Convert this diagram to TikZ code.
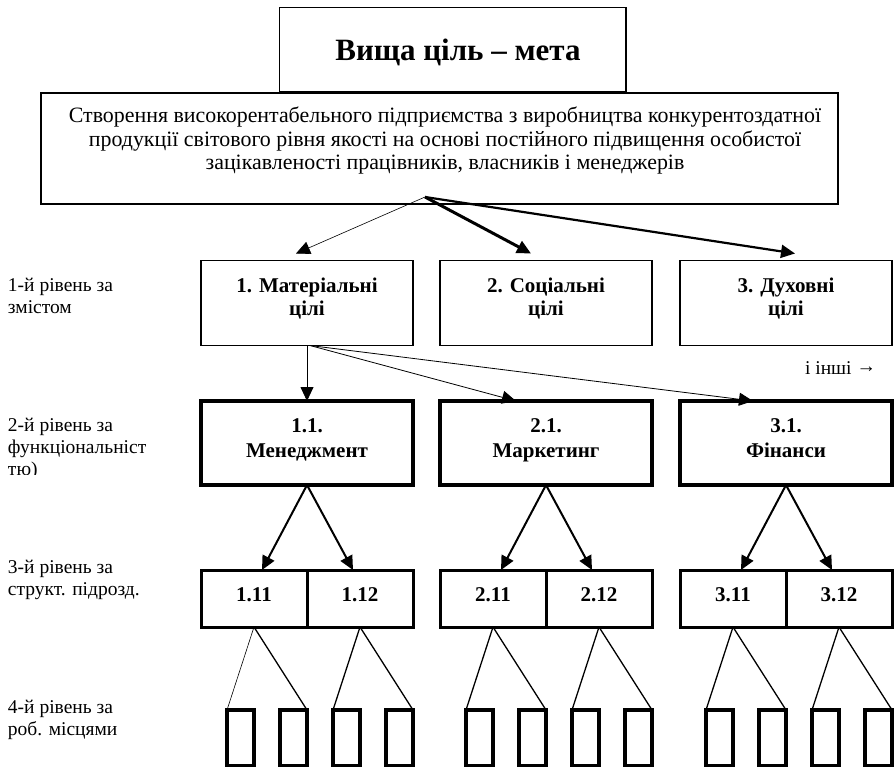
\documentclass[tikz,border=0pt]{standalone}
\usepackage{fontspec}
\setmainfont{Liberation Serif}
\usetikzlibrary{arrows.meta}
\begin{document}
\begin{tikzpicture}[x=1pt,y=-1pt,
  every node/.style={inner sep=0pt, outer sep=0pt},
  frame/.style={draw, line width=#1},
  lab/.style={font=\fontsize{19.5pt}{22pt}\selectfont, align=left, anchor=base west},
  body/.style={font=\fontsize{21.9pt}{23.3pt}\selectfont, align=center, anchor=base},
  head/.style={font=\bfseries\fontsize{21pt}{23pt}\selectfont, align=center, anchor=base},
  arr/.style={-{Triangle[length=14pt,width=13pt]}},
]
\useasboundingbox (0,0) rectangle (894,768);

% --- top goal and mission ---
\node[frame=1.5pt, minimum width=346.6pt, minimum height=84.4pt] (goal) at (452.7,49.5) {};
\node[font=\bfseries\fontsize{31pt}{34pt}\selectfont, anchor=base] (goaltext) at (458,60) {Вища ціль – мета};
\node[frame=2pt, minimum width=797pt, minimum height=111.3pt] (mission) at (439.5,148.4) {};
\node[body] (missiontext) at (445,169.5)
  {Створення високорентабельного підприємства з виробництва конкурентоздатної\\
   продукції світового рівня якості на основі постійного підвищення особистої\\
   зацікавленості працівників, власників і менеджерів};
\coordinate (src) at (425,197);

% --- level 1: goals by content ---
\foreach \n/\x/\t in {c1/307/{1. Матеріальні\\цілі}, c2/546/{2. Соціальні\\цілі}, c3/786/{3. Духовні\\цілі}}{
  \node[frame=1.5pt, minimum width=212pt, minimum height=85pt] (\n) at (\x,303) {};
  \node[head] (\n t) at (\x,315) {\t};
}

% --- level 2: functions ---
\foreach \n/\x/\t in {f1/307/{1.1.\\Менеджмент}, f2/546/{2.1.\\Маркетинг}, f3/786/{3.1.\\Фінанси}}{
  \node[frame=3.5pt, minimum width=212pt, minimum height=84pt] (\n) at (\x,443) {};
  \node[head, font=\bfseries\fontsize{21pt}{24.5pt}\selectfont] (\n t) at (\x,457) {\t};
}

% --- level 3: subdivisions ---
\foreach \n/\x/\t in {s11/254/1.11, s12/360/1.12, s21/493/2.11, s22/599/2.12, s31/733/3.11, s32/839/3.12}{
  \node[frame=3pt, minimum width=106pt, minimum height=57pt] (\n) at (\x,598.5) {};
  \node[head] (\n t) at (\x,601) {\t};
}

% --- level 4: workplaces ---
\foreach \s/\x in {s11/201,s12/307,s21/440,s22/546,s31/680,s32/786}{
  \node[frame=3.5pt, minimum width=27pt, minimum height=55.5pt] (\s w1) at (\x+39.5,737.75) {};
  \node[frame=3.5pt, minimum width=27pt, minimum height=55.5pt] (\s w2) at (\x+92.5,737.75) {};
}

% --- connectors ---
\draw[arr, line width=0.6pt] (src) -- ([xshift=-11pt,yshift=7pt]c1.north);
\draw[arr, line width=3pt] (src) -- ([xshift=-15pt,yshift=7pt]c2.north);
\draw[arr, line width=2.2pt] (src) -- ([xshift=9pt,yshift=7pt]c3.north);

\draw[arr, line width=0.8pt] (c1.south) -- (f1.north);
\draw[arr, line width=0.8pt] ([xshift=3pt]c1.south) -- ([xshift=-30pt]f2.north);
\draw[arr, line width=0.8pt] ([xshift=3pt]c1.south) -- ([xshift=-33pt]f3.north);

\foreach \f/\a/\b in {f1/s11/s12, f2/s21/s22, f3/s31/s32}{
  \draw[arr, line width=2pt] (\f.south) -- ([xshift=8pt]\a.north);
  \draw[arr, line width=2pt] (\f.south) -- ([xshift=-7pt]\b.north);
}

\draw[line width=0.6pt] (s11.south) -- (s11w1.north west);
\draw[line width=1.3pt] (s11.south) -- (s11w2.north east);
\foreach \s in {s12,s21,s22,s31,s32}{
  \draw[line width=1.3pt] (\s.south) -- (\s w1.north west);
  \draw[line width=1.3pt] (\s.south) -- (\s w2.north east);
}

% --- row captions ---
\node[lab] (r1) at (8,313) {1-й рівень за\\змістом};
\begin{scope}
  \clip (0,400) rectangle (190,474);
  \node[lab] (r2) at (8,475) {2-й рівень за\\функціональніст\\тю)};
\end{scope}
\node[lab] (r3) at (8,595) {3-й рівень за\\структ. підрозд.};
\node[lab] (r4) at (8,735) {4-й рівень за\\роб. місцями};
\node[font=\fontsize{19.5pt}{22pt}\selectfont, anchor=base east] (more) at (876,374.7) {і інші \raisebox{2pt}{→}};
\end{tikzpicture}
\end{document}
